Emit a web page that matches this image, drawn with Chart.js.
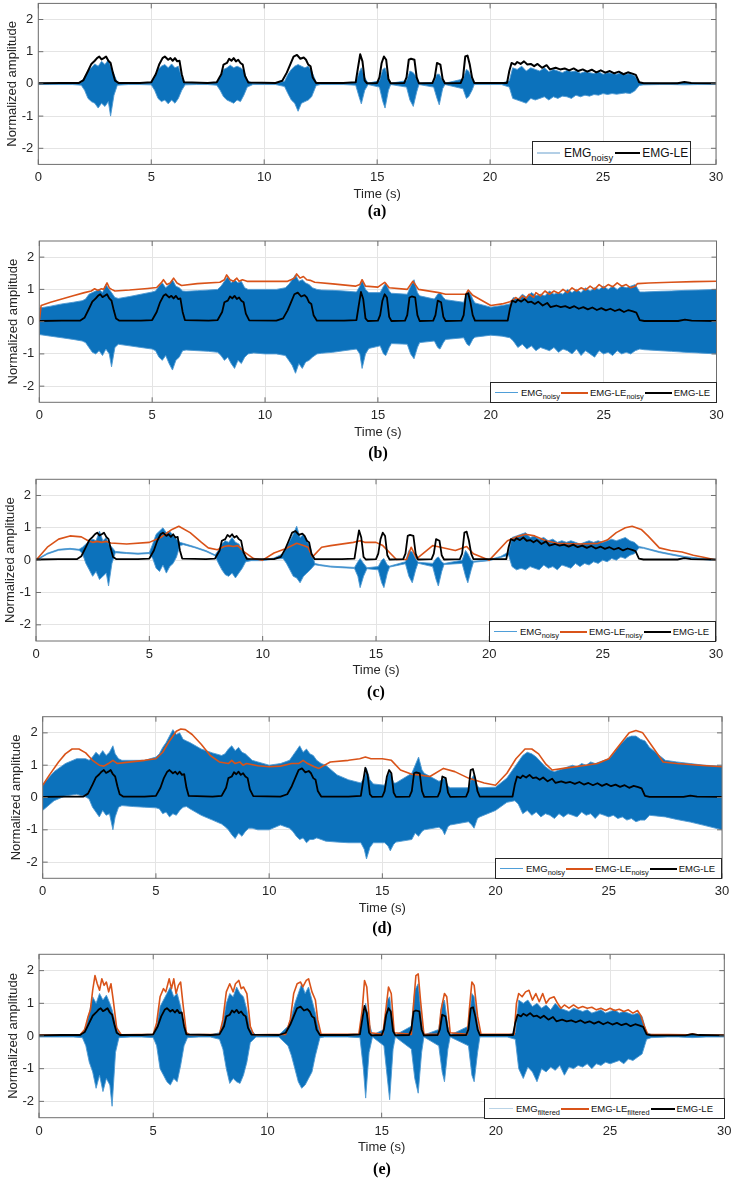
<!DOCTYPE html>
<html><head><meta charset="utf-8">
<script src="https://cdn.jsdelivr.net/npm/chart.js@4.4.1/dist/chart.umd.min.js"></script>
<style>
html,body{margin:0;padding:0;background:#fff}
body{width:735px;height:1181px;position:relative;overflow:hidden;font-family:"Liberation Sans",Arial,Helvetica,sans-serif}
canvas{position:absolute;left:0}
.lg{position:absolute;background:#fff;border:1px solid #262626;box-sizing:border-box;display:flex;align-items:center;padding-left:3px;white-space:nowrap;color:#111;font-family:"Liberation Sans",Arial,sans-serif;z-index:5}
.lg i{display:inline-block;height:0;border-top:2px solid;margin-right:2px;margin-left:1px}
.lg sub{font-size:78%;vertical-align:-0.4em;line-height:0}
.pl{position:absolute;font-family:"Liberation Serif","DejaVu Serif",serif;font-weight:bold;font-size:16px;transform:translate(-50%,-50%);color:#000;z-index:5}
</style>
</head><body>

<canvas id="ca"></canvas>
<canvas id="cb"></canvas>
<canvas id="cc"></canvas>
<canvas id="cd"></canvas>
<canvas id="ce"></canvas>

<div class="lg" style="left:532px;top:141px;width:159px;height:24px;font-size:12px">
  <i style="width:23px;border-color:#b3cfe6"></i><span style="margin-left:2px">EMG<sub>noisy</sub></span>
  <i style="width:25px;border-color:#000;margin-left:2px"></i><span>EMG-LE</span>
</div>
<div class="lg" style="left:490px;top:382px;width:227px;height:21px;font-size:9.5px">
  <i style="width:23px;border-color:#4f9ed8;border-top-width:1.5px"></i><span style="margin-left:1px">EMG<sub>noisy</sub></span>
  <i style="width:27px;border-color:#D95319"></i><span>EMG-LE<sub>noisy</sub></span>
  <i style="width:27px;border-color:#000"></i><span>EMG-LE</span>
</div>
<div class="lg" style="left:489px;top:621px;width:227px;height:21px;font-size:9.5px">
  <i style="width:23px;border-color:#4f9ed8;border-top-width:1.5px"></i><span style="margin-left:1px">EMG<sub>noisy</sub></span>
  <i style="width:27px;border-color:#D95319"></i><span>EMG-LE<sub>noisy</sub></span>
  <i style="width:27px;border-color:#000"></i><span>EMG-LE</span>
</div>
<div class="lg" style="left:495px;top:858px;width:227px;height:21px;font-size:9.5px">
  <i style="width:23px;border-color:#4f9ed8;border-top-width:1.5px"></i><span style="margin-left:1px">EMG<sub>noisy</sub></span>
  <i style="width:27px;border-color:#D95319"></i><span>EMG-LE<sub>noisy</sub></span>
  <i style="width:27px;border-color:#000"></i><span>EMG-LE</span>
</div>
<div class="lg" style="left:484px;top:1098px;width:241px;height:21px;font-size:9.5px">
  <i style="width:24px;border-color:#b9d3e6;border-top-width:1.5px"></i><span style="margin-left:1px">EMG<sub>filtered</sub></span>
  <i style="width:28px;border-color:#D95319"></i><span>EMG-LE<sub>filtered</sub></span>
  <i style="width:24px;border-color:#000"></i><span>EMG-LE</span>
</div>

<div class="pl" style="left:377px;top:211px">(a)</div>
<div class="pl" style="left:378px;top:453px">(b)</div>
<div class="pl" style="left:376px;top:692px">(c)</div>
<div class="pl" style="left:382px;top:928px">(d)</div>
<div class="pl" style="left:382px;top:1169px">(e)</div>

<script>
// ---------- tick labels ----------
const xTicks = [0, 5, 10, 15, 20, 25, 30];
const yTicks = [-2, -1, 0, 1, 2];

// ---------- EMG-LE (clean linear envelope, same in every panel) ----------
const leT = [0,1.0,1.8,2.0,2.2,2.35,2.5,2.6,2.7,2.8,2.9,3.0,3.1,3.2,3.3,3.4,3.55,4.5,5.0,5.2,5.35,5.5,5.6,5.75,5.85,5.95,6.05,6.15,6.25,6.35,6.45,7.5,7.9,8.1,8.2,8.35,8.45,8.55,8.65,8.75,8.85,8.95,9.05,9.15,9.3,10.5,10.8,11.0,11.15,11.3,11.45,11.6,11.75,11.85,11.95,12.05,12.15,12.3,13.5,14.05,14.15,14.25,14.35,14.45,14.55,15.0,15.1,15.2,15.3,15.4,15.5,15.6,16.2,16.3,16.4,16.5,16.65,16.75,16.85,17.45,17.55,17.65,17.8,17.9,18.0,18.7,18.8,18.9,19.0,19.1,19.2,19.3,20.75,20.85,20.95,21.1,21.2,21.35,21.5,21.65,21.8,21.95,22.1,22.3,22.5,22.65,22.9,23.1,23.3,23.5,23.7,23.9,24.1,24.3,24.5,24.7,24.9,25.1,25.3,25.5,25.7,25.9,26.1,26.3,26.45,26.6,26.8,28.3,28.6,28.9,30];
const leV = [0.02,0.03,0.03,0.12,0.4,0.62,0.72,0.8,0.85,0.76,0.8,0.85,0.72,0.65,0.35,0.1,0.03,0.03,0.05,0.3,0.6,0.8,0.85,0.75,0.8,0.72,0.8,0.7,0.72,0.3,0.05,0.03,0.05,0.3,0.6,0.65,0.78,0.72,0.8,0.7,0.75,0.65,0.6,0.25,0.04,0.03,0.1,0.35,0.6,0.85,0.9,0.78,0.82,0.75,0.6,0.55,0.2,0.03,0.03,0.05,0.5,0.92,0.7,0.1,0.02,0.03,0.2,0.65,0.85,0.75,0.15,0.02,0.03,0.2,0.75,0.78,0.75,0.2,0.02,0.03,0.2,0.65,0.6,0.15,0.02,0.03,0.2,0.85,0.88,0.6,0.2,0.03,0.03,0.4,0.65,0.6,0.68,0.62,0.7,0.6,0.62,0.55,0.62,0.5,0.58,0.45,0.5,0.45,0.48,0.42,0.48,0.4,0.45,0.38,0.44,0.36,0.42,0.35,0.4,0.33,0.38,0.3,0.36,0.32,0.28,0.05,0.02,0.02,0.06,0.03,0.02];

// ---------- EMG signal extents (upper / lower edge of the dense trace), shared time grid ----------
const emgT = [0,0.5,1,1.5,1.9,
  2.05,2.2,2.35,2.5,2.65,2.8,2.95,3.1,3.2,3.35,3.5,
  4,4.5,5,
  5.15,5.3,5.45,5.6,5.75,5.9,6.05,6.2,6.35,6.5,
  7,7.5,7.9,
  8.05,8.2,8.35,8.5,8.65,8.8,8.95,9.1,9.25,9.5,
  10,10.5,10.9,
  11.05,11.2,11.35,11.5,11.65,11.8,11.95,12.1,12.3,12.5,
  13,13.5,14.05,
  14.2,14.3,14.45,14.6,
  15.1,15.25,15.35,15.5,15.6,
  16.3,16.45,16.6,16.75,16.85,
  17.5,17.65,17.75,17.9,18.0,
  18.8,18.95,19.05,19.2,19.3,
  20,20.5,20.85,
  21,21.2,21.4,21.6,21.8,22,22.2,22.4,22.6,22.8,23,23.2,23.4,23.6,23.8,24,24.2,24.4,24.6,24.8,25,25.2,25.4,25.6,25.8,26,26.2,26.4,26.6,
  26.8,27.5,28,28.6,29.2,30];

// (a) EMG noisy
const aHi = [0.02,0.02,0.02,0.02,0.04,
  0.2,0.4,0.5,0.62,0.55,0.7,0.6,0.75,0.55,0.3,0.04,
  0.02,0.02,0.03,
  0.2,0.45,0.55,0.6,0.5,0.62,0.5,0.55,0.2,0.03,
  0.02,0.02,0.04,
  0.2,0.45,0.5,0.58,0.5,0.55,0.5,0.4,0.1,0.02,
  0.02,0.02,0.08,
  0.3,0.45,0.55,0.6,0.55,0.5,0.55,0.4,0.05,0.02,
  0.02,0.02,0.04,
  0.35,0.5,0.2,0.02,
  0.1,0.45,0.5,0.15,0.02,
  0.1,0.4,0.35,0.2,0.02,
  0.05,0.3,0.3,0.1,0.02,
  0.15,0.45,0.4,0.15,0.02,
  0.02,0.02,0.1,
  0.5,0.45,0.55,0.4,0.5,0.45,0.4,0.5,0.38,0.45,0.4,0.35,0.42,0.38,0.4,0.33,0.38,0.35,0.32,0.38,0.3,0.35,0.33,0.3,0.35,0.3,0.32,0.25,0.05,
  0.03,0.02,0.02,0.04,0.02,0.02];
const aLo = [-0.02,-0.02,-0.02,-0.02,-0.04,
  -0.2,-0.45,-0.55,-0.6,-0.75,-0.6,-0.7,-0.55,-1.0,-0.35,-0.04,
  -0.02,-0.02,-0.03,
  -0.2,-0.45,-0.55,-0.5,-0.62,-0.5,-0.6,-0.45,-0.2,-0.03,
  -0.02,-0.02,-0.04,
  -0.2,-0.4,-0.5,-0.55,-0.6,-0.5,-0.55,-0.35,-0.1,-0.02,
  -0.02,-0.02,-0.08,
  -0.3,-0.5,-0.6,-0.85,-0.6,-0.55,-0.5,-0.4,-0.05,-0.02,
  -0.02,-0.02,-0.04,
  -0.4,-0.62,-0.2,-0.02,
  -0.1,-0.55,-0.75,-0.2,-0.02,
  -0.1,-0.5,-0.7,-0.25,-0.02,
  -0.1,-0.45,-0.65,-0.15,-0.02,
  -0.15,-0.45,-0.4,-0.2,-0.02,
  -0.02,-0.02,-0.1,
  -0.45,-0.5,-0.55,-0.6,-0.45,-0.5,-0.45,-0.4,-0.5,-0.4,-0.45,-0.38,-0.4,-0.45,-0.35,-0.4,-0.35,-0.38,-0.33,-0.35,-0.3,-0.33,-0.3,-0.32,-0.3,-0.28,-0.3,-0.22,-0.05,
  -0.03,-0.02,-0.02,-0.03,-0.02,-0.02];

// (b) EMG noisy
const bHi = [0.42,0.48,0.55,0.6,0.65,
  0.7,0.85,0.9,0.95,1.0,0.9,1.15,1.0,0.9,0.75,0.72,
  0.78,0.85,0.92,
  0.95,1.1,1.2,1.05,1.15,1.3,1.1,1.05,0.95,0.94,
  0.96,0.98,1.0,
  1.1,1.25,1.4,1.2,1.3,1.2,1.25,1.05,1.0,1.0,
  1.0,1.0,1.05,
  1.15,1.3,1.45,1.25,1.3,1.2,1.15,1.05,1.0,0.98,
  0.97,0.95,0.92,
  1.1,1.3,1.0,0.9,
  0.9,1.1,1.2,0.95,0.88,
  0.85,1.1,1.3,0.9,0.8,
  0.7,0.85,0.9,0.75,0.68,
  0.6,0.9,0.95,0.7,0.58,
  0.45,0.5,0.55,
  0.75,0.7,0.85,0.75,0.9,0.8,0.85,0.8,0.95,0.85,0.9,0.85,1.0,0.9,1.0,0.9,1.05,0.95,1.05,1.0,1.1,1.0,1.1,1.0,1.1,1.05,1.1,1.15,0.92,
  0.92,0.94,0.95,0.97,0.98,1.0];
const bLo = [-0.4,-0.45,-0.5,-0.55,-0.6,
  -0.65,-0.8,-0.95,-1.0,-0.9,-1.05,-0.85,-1.0,-1.4,-0.8,-0.7,
  -0.75,-0.8,-0.85,
  -0.9,-1.1,-1.2,-1.05,-1.3,-1.5,-1.2,-1.1,-0.9,-0.88,
  -0.9,-0.92,-0.95,
  -1.05,-1.2,-1.1,-1.3,-1.45,-1.2,-1.3,-1.1,-1.0,-0.97,
  -1.0,-1.0,-1.05,
  -1.2,-1.35,-1.6,-1.3,-1.45,-1.25,-1.2,-1.1,-1.0,-0.98,
  -0.95,-0.9,-0.85,
  -1.0,-1.45,-1.0,-0.83,
  -0.75,-1.0,-1.05,-0.8,-0.68,
  -0.7,-1.0,-1.15,-0.8,-0.65,
  -0.6,-0.8,-0.85,-0.65,-0.55,
  -0.5,-0.7,-0.75,-0.55,-0.48,
  -0.42,-0.45,-0.5,
  -0.6,-0.8,-0.7,-0.85,-0.75,-0.9,-0.8,-0.85,-0.9,-0.8,-0.95,-0.85,-0.9,-1.0,-0.85,-1.05,-0.9,-1.0,-1.1,-0.9,-1.0,-0.95,-1.05,-0.9,-1.0,-0.95,-1.0,-0.9,-0.85,
  -0.87,-0.9,-0.92,-0.95,-0.97,-1.0];

// (c) EMG noisy (low-frequency drift + bursts)
const cHi = [0.015,0.215,0.335,0.365,0.335,
  0.4,0.5,0.6,0.65,0.6,0.9,0.6,0.7,0.5,0.4,0.27,
  0.235,0.215,0.235,
  0.5,0.8,0.9,1.0,0.85,0.9,0.75,0.65,0.55,0.52,
  0.415,0.295,0.165,
  0.3,0.5,0.6,0.55,0.7,0.55,0.5,0.3,0.1,0.015,
  0.015,0.065,0.2,
  0.4,0.6,0.8,1.05,0.7,0.8,0.6,0.4,-0.1,-0.135,
  -0.185,-0.205,-0.225,
  -0.05,0.05,-0.1,-0.235,
  -0.2,0.0,0.05,-0.15,-0.185,
  -0.05,0.3,0.25,0.05,-0.065,
  -0.1,0.05,0.1,-0.05,-0.105,
  0.0,0.3,0.2,0.0,-0.035,
  0.015,0.115,0.25,
  0.7,0.75,0.8,0.85,0.7,0.75,0.65,0.7,0.6,0.65,0.55,0.6,0.55,0.6,0.55,0.5,0.55,0.6,0.55,0.6,0.55,0.6,0.65,0.6,0.65,0.7,0.6,0.55,0.42,
  0.395,0.265,0.195,0.115,0.065,0.015];
const cLo = [-0.015,0.185,0.305,0.335,0.305,
  0.2,-0.1,-0.3,-0.5,-0.35,-0.6,-0.5,-0.4,-0.8,-0.1,0.23,
  0.205,0.185,0.205,
  0.05,-0.25,-0.35,-0.15,-0.4,-0.2,-0.1,0.1,0.45,0.48,
  0.385,0.265,0.135,
  -0.1,-0.3,-0.45,-0.5,-0.4,-0.55,-0.4,-0.25,-0.05,-0.015,
  -0.015,0.035,0.05,
  -0.1,-0.3,-0.5,-0.55,-0.7,-0.5,-0.4,-0.3,-0.14,-0.165,
  -0.215,-0.235,-0.255,
  -0.5,-0.85,-0.5,-0.265,
  -0.3,-0.7,-0.85,-0.4,-0.215,
  -0.11,-0.5,-0.7,-0.3,-0.095,
  -0.2,-0.6,-0.8,-0.35,-0.135,
  -0.1,-0.5,-0.7,-0.3,-0.065,
  -0.015,0.085,0.15,
  -0.2,-0.3,-0.25,-0.3,-0.2,-0.25,-0.3,-0.15,-0.25,-0.2,-0.3,-0.15,-0.2,-0.25,-0.1,-0.2,-0.1,-0.15,-0.05,-0.1,0.0,-0.05,0.05,0.0,0.1,0.05,0.15,0.2,0.38,
  0.365,0.235,0.165,0.085,0.035,-0.015];

// (d) EMG noisy
const dHi = [0.4,0.8,1.05,1.2,1.2,
  1.15,1.25,1.4,1.3,1.45,1.3,1.4,1.6,1.35,1.2,1.15,
  1.15,1.15,1.25,
  1.35,1.55,1.7,1.9,2.1,1.95,2.0,1.8,1.75,1.7,
  1.5,1.38,1.3,
  1.35,1.5,1.6,1.45,1.55,1.4,1.35,1.25,1.15,1.1,
  1.0,1.05,1.15,
  1.3,1.45,1.6,1.4,1.5,1.35,1.3,1.15,1.05,1.0,
  0.7,0.55,0.45,
  0.6,0.9,0.55,0.42,
  0.38,0.7,0.8,0.45,0.45,
  0.75,1.0,1.25,0.85,0.75,
  0.5,0.55,0.6,0.35,0.3,
  0.3,0.6,0.7,0.35,0.3,
  0.32,0.6,0.95,
  1.1,1.3,1.4,1.35,1.25,1.1,0.95,0.85,0.8,0.85,0.9,0.95,1.0,0.95,1.05,1.0,1.1,1.05,1.1,1.15,1.2,1.35,1.55,1.7,1.85,1.9,1.9,1.8,1.75,
  1.55,1.15,1.1,1.05,1.0,0.97];
const dLo = [-0.4,-0.1,0.05,0.1,0.02,
  -0.05,-0.3,-0.45,-0.6,-0.4,-0.55,-0.5,-1.0,-0.6,-0.3,-0.25,
  -0.28,-0.3,-0.32,
  -0.35,-0.5,-0.45,-0.6,-0.5,-0.55,-0.4,-0.3,-0.28,-0.35,
  -0.55,-0.7,-0.82,
  -0.9,-1.0,-1.15,-1.27,-1.1,-1.2,-1.05,-0.95,-0.95,-1.0,
  -1.0,-0.85,-0.95,
  -1.05,-1.2,-1.3,-1.25,-1.4,-1.3,-1.3,-1.25,-1.3,-1.35,
  -1.38,-1.4,-1.4,
  -1.6,-1.9,-1.55,-1.4,
  -1.4,-1.5,-1.65,-1.45,-1.38,
  -1.3,-1.1,-1.2,-1.05,-1.0,
  -0.92,-1.0,-1.15,-0.9,-0.85,
  -0.75,-0.85,-0.95,-0.65,-0.6,
  -0.4,-0.15,-0.1,
  -0.2,-0.5,-0.4,-0.55,-0.45,-0.6,-0.5,-0.55,-0.65,-0.5,-0.6,-0.5,-0.55,-0.6,-0.45,-0.55,-0.5,-0.65,-0.5,-0.55,-0.6,-0.55,-0.65,-0.6,-0.7,-0.65,-0.75,-0.7,-0.7,
  -0.55,-0.6,-0.68,-0.76,-0.86,-1.0];

// (e) EMG filtered
const eHi = [0.03,0.03,0.03,0.03,0.05,
  0.3,0.7,1.2,1.0,1.3,1.1,1.25,1.0,0.8,0.4,0.05,
  0.03,0.03,0.05,
  0.3,0.9,1.1,1.3,1.5,1.2,1.3,0.9,0.3,0.05,
  0.03,0.03,0.1,
  0.4,1.0,1.3,1.2,1.5,1.3,1.2,0.8,0.2,0.03,
  0.03,0.03,0.3,
  0.6,1.0,1.3,1.6,1.3,1.5,1.1,0.7,0.05,0.03,
  0.03,0.03,0.05,
  0.7,1.0,0.4,0.03,
  0.2,1.1,1.2,0.3,0.03,
  0.3,1.4,1.6,0.5,0.03,
  0.2,1.0,1.1,0.3,0.03,
  0.3,1.3,1.2,0.4,0.03,
  0.03,0.03,0.1,
  1.1,1.0,1.1,0.9,1.0,0.85,0.95,0.8,1.0,0.85,0.8,0.75,0.85,0.8,0.75,0.8,0.7,0.75,0.8,0.7,0.75,0.8,0.7,0.75,0.7,0.65,0.7,0.6,0.1,
  0.05,0.03,0.03,0.05,0.03,0.03];
const eLo = [-0.03,-0.03,-0.03,-0.03,-0.05,
  -0.3,-0.8,-1.1,-1.6,-1.2,-1.7,-1.3,-1.5,-2.15,-0.5,-0.05,
  -0.03,-0.03,-0.05,
  -0.3,-1.0,-1.2,-1.4,-1.5,-1.3,-1.4,-0.9,-0.3,-0.05,
  -0.03,-0.03,-0.1,
  -0.4,-1.0,-1.45,-1.3,-1.4,-1.45,-1.2,-0.8,-0.2,-0.03,
  -0.03,-0.03,-0.3,
  -0.6,-1.0,-1.4,-1.6,-1.5,-1.3,-1.1,-0.6,-0.05,-0.03,
  -0.03,-0.03,-0.05,
  -1.0,-1.9,-0.5,-0.03,
  -0.3,-1.3,-1.95,-0.4,-0.03,
  -0.4,-1.3,-1.75,-0.5,-0.03,
  -0.3,-1.1,-1.4,-0.4,-0.03,
  -0.3,-1.2,-1.4,-0.5,-0.03,
  -0.03,-0.03,-0.1,
  -1.0,-1.3,-0.95,-1.1,-1.4,-1.0,-1.1,-0.95,-1.05,-0.9,-1.2,-0.95,-1.0,-0.9,-0.95,-0.85,-1.0,-0.85,-0.9,-0.8,-0.85,-0.8,-0.75,-0.85,-0.7,-0.75,-0.65,-0.55,-0.1,
  -0.05,-0.03,-0.03,-0.05,-0.03,-0.03];

// ---------- EMG-LE of the noisy / filtered signal (orange) ----------
const bLeT = [0,0.08,0.5,1.0,1.5,2.0,2.3,2.45,2.6,2.75,2.85,3.0,3.1,3.2,3.35,4.0,4.8,5.2,5.4,5.5,5.65,5.8,5.95,6.1,6.3,7.0,8.0,8.2,8.3,8.45,8.6,8.75,8.85,9.0,9.2,10.0,11.0,11.15,11.3,11.4,11.55,11.7,11.85,12.0,12.2,13.0,14.0,14.2,14.3,14.45,15.0,15.3,15.5,16.3,16.55,16.8,17.7,18.0,18.9,19.0,19.2,20.0,20.5,20.85,21.0,21.1,21.25,21.4,21.55,21.7,21.9,22.0,22.2,22.4,22.6,22.8,23.0,23.2,23.4,23.6,23.8,24.0,24.2,24.4,24.6,24.8,25.0,25.2,25.4,25.6,25.8,26.0,26.2,26.4,26.5,27.0,28.0,29.0,30.0];
const bLeV = [0.0,0.5,0.6,0.7,0.8,0.9,0.95,1.02,0.97,1.02,1.0,1.2,1.05,1.0,0.95,0.98,1.03,1.06,1.2,1.3,1.15,1.2,1.35,1.2,1.12,1.18,1.22,1.3,1.45,1.3,1.25,1.35,1.25,1.3,1.25,1.25,1.25,1.3,1.35,1.48,1.35,1.4,1.3,1.28,1.22,1.17,1.1,1.15,1.3,1.1,1.07,1.22,1.05,1.0,1.25,1.0,0.9,0.85,0.85,0.98,0.82,0.5,0.55,0.62,0.68,0.75,0.68,0.8,0.72,0.85,0.75,0.9,0.8,0.95,0.85,0.95,0.88,1.0,0.9,1.05,0.95,1.05,0.98,1.1,1.0,1.15,1.05,1.15,1.08,1.2,1.1,1.15,1.05,1.1,1.18,1.2,1.22,1.24,1.25];

const cLeT = [0,0.5,1.0,1.5,2.0,2.3,2.5,2.7,2.9,3.1,3.3,4.0,5.0,5.5,6.0,6.3,6.8,7.3,7.6,8.0,8.3,8.5,8.7,8.9,9.2,9.6,10.0,10.5,11.0,11.3,11.5,11.8,12.0,12.2,12.6,13.0,14.0,14.3,14.5,15.0,15.3,15.9,16.35,16.55,16.8,17.5,17.7,18.5,19.0,19.3,20.0,20.8,21.2,21.6,22.0,22.5,23.0,24.0,24.8,25.2,25.6,26.0,26.3,26.7,27.0,27.5,28.0,28.5,29.0,29.5,30.0];
const cLeV = [0.0,0.4,0.65,0.75,0.72,0.6,0.55,0.58,0.55,0.58,0.53,0.5,0.55,0.7,0.95,1.05,0.85,0.55,0.38,0.32,0.42,0.45,0.42,0.45,0.25,0.05,0.0,0.22,0.35,0.45,0.52,0.45,0.4,0.1,0.4,0.45,0.55,0.6,0.55,0.55,0.45,0.02,0.02,0.4,0.05,0.45,0.42,0.3,0.42,0.2,0.0,0.6,0.72,0.8,0.75,0.6,0.52,0.5,0.52,0.62,0.85,1.0,1.05,0.95,0.75,0.38,0.3,0.25,0.15,0.08,0.0];

const dLeT = [0,0.3,0.7,1.0,1.3,1.6,1.9,2.2,2.5,2.7,2.9,3.1,3.3,3.6,4.5,5.0,5.3,5.6,5.9,6.1,6.3,6.6,7.0,7.4,7.8,8.2,8.35,8.5,8.7,8.85,9.0,9.5,10.0,10.5,11.0,11.3,11.5,11.7,12.0,12.2,12.7,13.5,14.0,14.25,14.5,15.0,15.4,15.8,16.3,16.6,17.1,17.7,18.2,18.8,19.5,20.0,20.5,20.9,21.3,21.6,21.9,22.2,22.5,23.0,24.0,24.5,25.0,25.5,25.9,26.2,26.5,26.9,27.4,28.0,29.0,30.0];
const dLeV = [0.38,0.7,1.1,1.35,1.5,1.5,1.38,1.15,1.0,0.97,1.05,1.15,1.05,1.08,1.15,1.2,1.4,1.75,2.05,2.12,2.1,1.95,1.65,1.3,1.1,1.05,1.15,1.05,1.1,1.0,1.05,0.98,0.95,0.97,1.05,1.05,1.15,1.05,0.95,0.9,1.1,1.15,1.2,1.25,1.2,1.2,1.15,0.85,0.72,0.7,0.65,0.9,0.8,0.6,0.45,0.38,0.75,1.2,1.5,1.5,1.35,1.05,0.85,0.9,1.0,1.05,1.2,1.65,2.0,2.07,2.0,1.6,1.1,1.05,1.0,0.95];

const eLeT = [0,1.8,2.0,2.15,2.25,2.35,2.45,2.55,2.65,2.75,2.85,2.95,3.05,3.15,3.25,3.4,3.6,5.0,5.15,5.3,5.45,5.55,5.7,5.8,5.9,6.0,6.1,6.2,6.3,6.45,6.6,7.9,8.05,8.2,8.35,8.5,8.6,8.75,8.85,8.95,9.1,9.25,9.4,10.8,11.0,11.15,11.3,11.45,11.55,11.7,11.8,11.95,12.1,12.2,12.35,14.0,14.15,14.25,14.35,14.5,15.05,15.2,15.3,15.42,15.55,16.3,16.4,16.5,16.6,16.7,16.85,17.5,17.6,17.75,17.85,18.0,18.75,18.85,18.95,19.05,19.2,19.35,20.8,20.9,21.0,21.15,21.3,21.45,21.6,21.75,21.9,22.05,22.2,22.35,22.55,22.7,22.85,23.0,23.2,23.4,23.6,23.8,24.0,24.2,24.4,24.6,24.8,25.0,25.2,25.4,25.6,25.8,26.0,26.2,26.35,26.5,26.65,28.4,28.6,28.8,30];
const eLeV = [0.03,0.04,0.2,0.6,0.8,1.4,1.85,1.6,1.4,1.75,1.55,1.65,1.35,1.6,1.1,0.25,0.04,0.05,0.4,1.2,1.45,1.35,1.75,1.45,1.75,1.3,1.55,1.65,1.0,0.1,0.04,0.05,0.5,1.35,1.6,1.35,1.6,1.7,1.45,1.5,1.3,0.3,0.04,0.05,0.5,1.3,1.6,1.65,1.5,1.7,1.75,1.35,1.1,0.5,0.05,0.05,0.8,1.7,1.5,0.1,0.05,0.9,1.5,1.3,0.1,0.05,1.0,1.85,1.9,1.1,0.05,0.05,0.8,1.3,1.2,0.1,0.05,0.9,1.65,1.55,0.6,0.05,0.05,1.0,1.3,1.2,1.35,1.4,1.1,1.3,1.05,1.3,1.0,1.15,1.2,1.0,0.85,0.95,0.85,0.95,0.85,0.9,0.85,0.88,0.8,0.85,0.78,0.85,0.78,0.82,0.75,0.8,0.7,0.78,0.62,0.3,0.05,0.04,0.07,0.04,0.03];

// ---------- drawing ----------
const FONT = '"Liberation Sans", Arial, Helvetica, sans-serif';
const BLUE_FILL = '#0c72bc', BLUE_EDGE = '#4f9ad3', ORANGE = '#D95319';

function pts(t, v, name) {
  if (t.length !== v.length) throw new Error('length mismatch in ' + name + ': ' + t.length + ' vs ' + v.length);
  return t.map((x, i) => ({x: x, y: v[i]}));
}

const boxPlugin = {
  id: 'mbox',
  afterDatasetsDraw(chart) {
    const {ctx, chartArea: a} = chart;
    const xs = chart.scales.x, ys = chart.scales.y;
    ctx.save();
    ctx.strokeStyle = '#6e6e6e';
    ctx.lineWidth = 1;
    ctx.beginPath();
    xTicks.forEach(v => {
      const p = xs.getPixelForValue(v);
      ctx.moveTo(p, a.bottom); ctx.lineTo(p, a.bottom - 5);
      ctx.moveTo(p, a.top); ctx.lineTo(p, a.top + 5);
    });
    yTicks.forEach(v => {
      const p = ys.getPixelForValue(v);
      ctx.moveTo(a.left, p); ctx.lineTo(a.left + 5, p);
      ctx.moveTo(a.right, p); ctx.lineTo(a.right - 5, p);
    });
    ctx.stroke();
    ctx.strokeRect(a.left, a.top, a.right - a.left, a.bottom - a.top);
    ctx.restore();
  }
};

function makePanel(id, geo, hi, lo, orangeT, orangeV, blackW) {
  const cv = document.getElementById(id);
  const cTop = Math.floor(geo.top) - 4;
  const pt = geo.top - cTop;
  const plotH = geo.bottom - geo.top;
  const XH = 40;
  const H = Math.ceil(pt + plotH + XH);
  const pb = H - (pt + plotH + XH);
  cv.width = 735; cv.height = H;
  cv.style.width = '735px'; cv.style.height = H + 'px'; cv.style.top = cTop + 'px';

  const datasets = [
    {data: pts(leT, leV, 'le'), borderColor: '#000', borderWidth: blackW, fill: false}
  ];
  if (orangeT) datasets.push({data: pts(orangeT, orangeV, id + ' orange'), borderColor: ORANGE, borderWidth: 1.6, fill: false});
  datasets.push({data: pts(emgT, hi, id + ' hi'), borderColor: BLUE_EDGE, borderWidth: 0.9, fill: false});
  datasets.push({data: pts(emgT, lo, id + ' lo'), borderColor: BLUE_EDGE, borderWidth: 0.9, fill: '-1', backgroundColor: BLUE_FILL});

  new Chart(cv, {
    type: 'line',
    data: {datasets: datasets},
    options: {
      responsive: false, animation: false, devicePixelRatio: 1,
      layout: {padding: {top: pt, right: 735 - geo.right, left: 0, bottom: pb}},
      plugins: {legend: {display: false}, tooltip: {enabled: false}},
      elements: {point: {radius: 0, hitRadius: 0}, line: {tension: 0, borderJoinStyle: 'round'}},
      events: [],
      scales: {
        x: {
          type: 'linear', min: 0, max: 30,
          afterBuildTicks: s => { s.ticks = xTicks.map(v => ({value: v})); },
          afterFit: s => { s.height = XH; s.paddingLeft = 0; s.paddingRight = 0; },
          ticks: {padding: 5.5, color: '#262626', font: {size: 13, family: FONT}, maxRotation: 0, autoSkip: false, callback: v => String(v)},
          grid: {color: '#e4e4e4', drawTicks: false, lineWidth: 1},
          border: {display: false},
          title: {display: true, text: 'Time (s)', color: '#262626', font: {size: 13, family: FONT}, padding: {top: 0, bottom: 2.5}}
        },
        y: {
          type: 'linear', min: -2.5, max: 2.5,
          afterBuildTicks: s => { s.ticks = yTicks.map(v => ({value: v})); },
          afterFit: s => { s.width = geo.left; s.paddingTop = 0; s.paddingBottom = 0; },
          ticks: {padding: 5, color: '#262626', font: {size: 13, family: FONT}, callback: v => String(v)},
          grid: {color: '#e4e4e4', drawTicks: false, lineWidth: 1},
          border: {display: false},
          title: {display: true, text: 'Normalized amplitude', color: '#262626', font: {size: 13, family: FONT}, padding: {top: Math.max(0, geo.left - 26 - 7.8), bottom: 0}}
        }
      }
    },
    plugins: [boxPlugin]
  });
}

makePanel('ca', {top: 3.4, bottom: 164.4, left: 38.3, right: 716}, aHi, aLo, null, null, 2);
makePanel('cb', {top: 241, bottom: 402.3, left: 39.3, right: 716.5}, bHi, bLo, bLeT, bLeV, 1.8);
makePanel('cc', {top: 479.3, bottom: 641, left: 36, right: 716}, cHi, cLo, cLeT, cLeV, 1.8);
makePanel('cd', {top: 716.7, bottom: 878.3, left: 42.7, right: 722}, dHi, dLo, dLeT, dLeV, 1.8);
makePanel('ce', {top: 954.3, bottom: 1117.7, left: 39, right: 724.3}, eHi, eLo, eLeT, eLeV, 1.8);
</script>
</body></html>
